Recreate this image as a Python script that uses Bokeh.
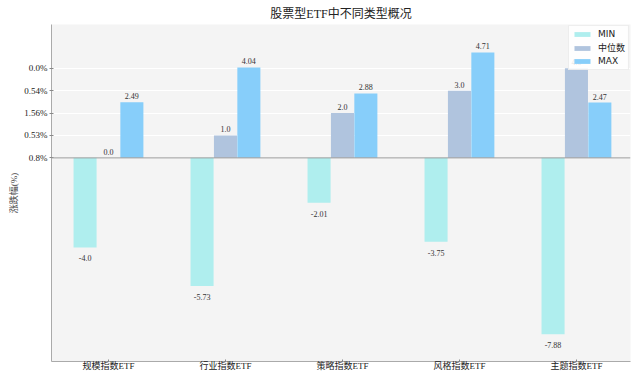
import numpy as np
from bokeh.plotting import figure
from bokeh.models import ColumnDataSource, LabelSet, Span, FixedTicker, Range1d, Legend, LegendItem
from bokeh.embed import file_html
from bokeh.resources import INLINE

categories = ["规模指数ETF", "行业指数ETF", "策略指数ETF", "风格指数ETF", "主题指数ETF"]
series_names = ["MIN", "中位数", "MAX"]
min_vals = [-4.0, -5.73, -2.01, -3.75, -7.88]
median_vals = [0.0, 1.0, 2.0, 3.0, 4.0]
max_vals = [2.49, 4.04, 2.88, 4.71, 2.47]
y_tick_values = [0, 1, 2, 3, 4]
y_tick_labels = ["0.8%", "0.53%", "1.56%", "0.54%", "0.0%"]
colors = ["#afeeee", "#b0c4de", "#87cefa"]

SERIF = "Liberation Serif, Noto Sans CJK SC, serif"

p = figure(width=632, height=373, output_backend="svg", toolbar_location=None,
           x_range=Range1d(-0.487, 4.462), y_range=Range1d(-9.1, 5.96),
           title="股票型ETF中不同类型概况")
p.min_border_left = 51
p.min_border_right = 2
p.min_border_top = 0
p.min_border_bottom = 0
p.background_fill_color = "#f4f4f4"
p.border_fill_color = "white"
p.outline_line_color = None

p.title.align = "center"
p.title.text_font = SERIF
p.title.text_font_size = "12px"
p.title.text_font_style = "normal"
p.title.text_color = "#222222"
p.title.standoff = 8

x = np.arange(len(categories))
offsets = [-0.2, 0.0, 0.2]
all_vals = [min_vals, median_vals, max_vals]
items = []
for name, vals, off, col in zip(series_names, all_vals, offsets, colors):
    vals = np.array(vals, dtype=float)
    src = ColumnDataSource(dict(x=x + off, top=vals))
    r = p.vbar(x="x", top="top", bottom=0, width=0.197, source=src,
               fill_color=col, line_color=None)
    items.append(LegendItem(label=name, renderers=[r]))
    pos = ColumnDataSource(dict(x=(x + off)[vals >= 0], y=vals[vals >= 0],
                                text=[str(v) for v in vals[vals >= 0]]))
    neg = ColumnDataSource(dict(x=(x + off)[vals < 0], y=vals[vals < 0],
                                text=[str(v) for v in vals[vals < 0]]))
    p.add_layout(LabelSet(x="x", y="y", text="text", source=pos, y_offset=3,
                          text_align="center", text_baseline="bottom",
                          text_font_size="8px", text_font=SERIF, text_color="#333333"))
    p.add_layout(LabelSet(x="x", y="y", text="text", source=neg, y_offset=-8,
                          text_align="center", text_baseline="top",
                          text_font_size="8px", text_font=SERIF, text_color="#333333"))

p.add_layout(Span(location=0, dimension="width", line_color="#999999", line_width=1))

legend = Legend(items=items, location="top_right")
legend.label_text_font = "DejaVu Sans, Noto Sans CJK SC"
legend.label_text_font_size = "9px"
legend.label_text_color = "#222222"
legend.glyph_width = 20
legend.glyph_height = 6
legend.label_height = 8
legend.label_standoff = 6
legend.spacing = 2
legend.padding = 3
legend.margin = 1
legend.border_line_color = "#dddddd"
legend.background_fill_color = "white"
legend.background_fill_alpha = 0.85
p.add_layout(legend)

p.xaxis.ticker = FixedTicker(ticks=list(range(len(categories))))
p.xaxis.major_label_overrides = {i: c for i, c in enumerate(categories)}
p.yaxis.ticker = FixedTicker(ticks=y_tick_values)
p.yaxis.major_label_overrides = {v: l for v, l in zip(y_tick_values, y_tick_labels)}
p.yaxis.axis_label = "涨跌幅(%)"
p.yaxis.axis_label_text_font = SERIF
p.yaxis.axis_label_text_font_size = "9px"
p.yaxis.axis_label_text_font_style = "normal"
p.yaxis.axis_label_standoff = 2

for ax in (p.xaxis, p.yaxis):
    ax.axis_line_color = "#aaaaaa"
    ax.major_tick_line_color = "#888888"
    ax.major_tick_in = 2
    ax.minor_tick_line_color = None
    ax.major_label_text_font = SERIF
    ax.major_label_text_font_size = "9px"
    ax.major_label_text_color = "#222222"
p.yaxis.major_tick_out = 2
p.yaxis.major_label_standoff = 2
p.xaxis.major_tick_out = 0
p.xaxis.major_label_standoff = -1

p.xgrid.grid_line_color = None
p.ygrid.grid_line_color = "white"
p.ygrid.grid_line_width = 1

open("out.html", "w").write(file_html(p, INLINE))
